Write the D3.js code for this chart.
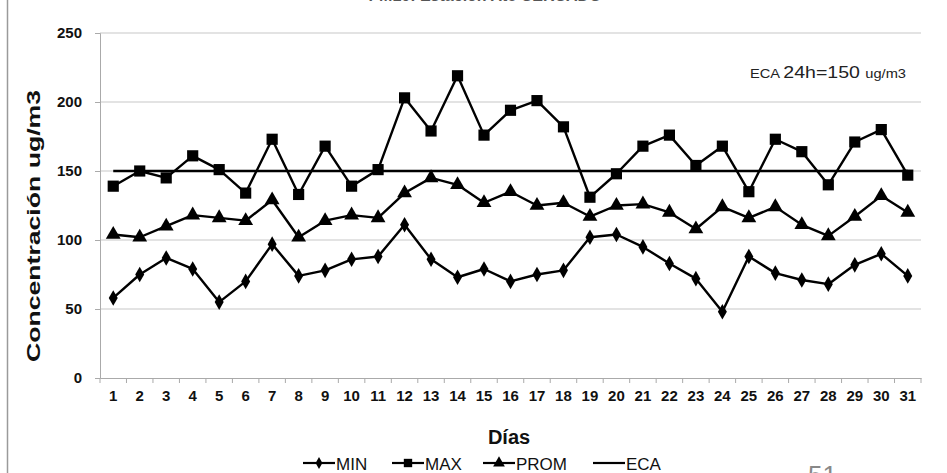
<!DOCTYPE html>
<html>
<head>
<meta charset="utf-8">
<script src="https://cdn.jsdelivr.net/npm/d3@7"></script>
<style>
  html, body { margin: 0; padding: 0; background: #fff; }
  svg { display: block; }
</style>
</head>
<body>
<svg id="chart" width="947" height="473"></svg>
<script>
// Daily PM10 concentrations (ug/m3) for one month
const days = d3.range(1, 32).map(String);
const minValues  = [58, 75, 87, 79, 55, 70, 97, 74, 78, 86, 88, 111, 86, 73, 79, 70, 75, 78, 102, 104, 95, 83, 72, 48, 88, 76, 71, 68, 82, 90, 74];
const maxValues  = [139, 150, 145, 161, 151, 134, 173, 133, 168, 139, 151, 203, 179, 219, 176, 194, 201, 182, 131, 148, 168, 176, 154, 168, 135, 173, 164, 140, 171, 180, 147];
const promValues = [104, 102, 110, 118, 116, 114, 129, 102, 114, 118, 116, 134, 145, 140, 127, 135, 125, 127, 117, 125, 126, 120, 108, 124, 116, 124, 111, 103, 117, 132, 120];
const ecaLimit = 150;
const yTicks = [0, 50, 100, 150, 200, 250];

const svg = d3.select("#chart");
const W = 947, H = 473;
const m = { left: 100, right: 26, top: 33, bottom: 95 };

const x = d3.scaleBand().domain(days).range([m.left, W - m.right]);
const y = d3.scaleLinear().domain([0, 250]).range([H - m.bottom, m.top]);
const cx = d => x(d) + x.bandwidth() / 2;

const sans = "'Liberation Sans', Arial, sans-serif";
const narrow = "'Liberation Sans Narrow', 'Arial Narrow', 'Liberation Sans', sans-serif";

// page frame line on the left
svg.append("line").attr("x1", 7.5).attr("x2", 7.5).attr("y1", 0).attr("y2", H)
  .attr("stroke", "#9a9a9a").attr("stroke-width", 1.5);

// title (runs off the top edge)
svg.append("text").attr("x", 485).attr("y", 1).attr("text-anchor", "middle")
  .attr("font-family", sans).attr("font-weight", "bold")
  .attr("font-size", 16).attr("fill", "#555")
  .text("PM10: Estación Ate CERCADO");

// gridlines
svg.append("g").selectAll("line").data(yTicks.filter(v => v > 0)).join("line")
  .attr("x1", m.left).attr("x2", W - m.right)
  .attr("y1", d => y(d)).attr("y2", d => y(d))
  .attr("stroke", "#c8c8c8").attr("stroke-width", 1.2);

// y axis
const yAxis = svg.append("g").attr("transform", `translate(${m.left},0)`)
  .call(d3.axisLeft(y).tickValues(yTicks).tickSize(5).tickPadding(13));
yAxis.select(".domain").attr("stroke", "#aaa");
yAxis.selectAll(".tick line").attr("stroke", "#aaa");
yAxis.selectAll("text").attr("font-family", narrow).attr("font-weight", "bold")
  .attr("font-size", 15).attr("fill", "#111");

// x axis with ticks between categories
const xAxis = svg.append("g").attr("transform", `translate(0,${y(0)})`)
  .call(d3.axisBottom(x).tickSize(0).tickPadding(12));
xAxis.select(".domain").attr("stroke", "#aaa");
xAxis.selectAll("text").attr("font-family", narrow).attr("font-weight", "bold")
  .attr("font-size", 15).attr("fill", "#111");
svg.append("g").selectAll("line").data(days.concat(["end"])).join("line")
  .attr("x1", (d, i) => m.left + i * x.bandwidth())
  .attr("x2", (d, i) => m.left + i * x.bandwidth())
  .attr("y1", y(0)).attr("y2", y(0) + 5)
  .attr("stroke", "#aaa");

// axis titles
svg.append("text")
  .attr("transform", "translate(40,226) rotate(-90)")
  .attr("text-anchor", "middle")
  .attr("font-family", sans).attr("font-weight", "bold")
  .attr("font-size", 19).attr("fill", "#111")
  .attr("textLength", 272).attr("lengthAdjust", "spacingAndGlyphs")
  .text("Concentración ug/m3");
svg.append("text").attr("x", 509).attr("y", 444).attr("text-anchor", "middle")
  .attr("font-family", sans).attr("font-weight", "bold")
  .attr("font-size", 20).attr("fill", "#111")
  .text("Días");

// ECA limit line
const line = d3.line().x(d => cx(d.day)).y(d => y(d.v));
const ecaData = days.map(d => ({ day: d, v: ecaLimit }));
svg.append("path").datum(ecaData).attr("d", line)
  .attr("fill", "none").attr("stroke", "#000").attr("stroke-width", 2.6);

// series
const series = [
  { name: "MIN",  values: minValues,  symbol: d3.symbolDiamond,  size: 70 },
  { name: "MAX",  values: maxValues,  symbol: d3.symbolSquare,   size: 125 },
  { name: "PROM", values: promValues, symbol: d3.symbolTriangle, size: 95 }
];
series.forEach(s => {
  const pts = days.map((d, i) => ({ day: d, v: s.values[i] }));
  svg.append("path").datum(pts).attr("d", line)
    .attr("fill", "none").attr("stroke", "#000").attr("stroke-width", 2.4)
    .attr("stroke-linejoin", "round");
  svg.append("g").selectAll("path").data(pts).join("path")
    .attr("transform", d => `translate(${cx(d.day)},${y(d.v)})`)
    .attr("d", d3.symbol().type(s.symbol).size(s.size))
    .attr("fill", "#000");
});

// ECA annotation
const ann = svg.append("text").attr("x", 750).attr("y", 78)
  .attr("font-family", narrow).attr("fill", "#222")
  .attr("textLength", 156).attr("lengthAdjust", "spacingAndGlyphs");
ann.append("tspan").attr("font-size", 12).text("ECA ");
ann.append("tspan").attr("font-size", 16).text("24h=150 ");
ann.append("tspan").attr("font-size", 12).text("ug/m3");

// legend
const legend = [
  { name: "MIN",  symbol: d3.symbolDiamond,  size: 40, x: 303 },
  { name: "MAX",  symbol: d3.symbolSquare,   size: 70, x: 392 },
  { name: "PROM", symbol: d3.symbolTriangle, size: 60, x: 483 },
  { name: "ECA",  symbol: null,              size: 0,  x: 593 }
];
const lg = svg.append("g");
legend.forEach(l => {
  const ly = 463;
  lg.append("line").attr("x1", l.x).attr("x2", l.x + 32).attr("y1", ly).attr("y2", ly)
    .attr("stroke", "#000").attr("stroke-width", 2.2);
  if (l.symbol) {
    lg.append("path").attr("transform", `translate(${l.x + 16},${ly})`)
      .attr("d", d3.symbol().type(l.symbol).size(l.size)).attr("fill", "#000");
  }
  lg.append("text").attr("x", l.x + 33).attr("y", ly + 7)
    .attr("font-family", sans)
    .attr("font-size", 17).attr("fill", "#111").text(l.name);
});

// page number
svg.append("text").attr("x", 808).attr("y", 484)
  .attr("font-family", sans)
  .attr("font-size", 26).attr("fill", "#888").text("51");
</script>
</body>
</html>
